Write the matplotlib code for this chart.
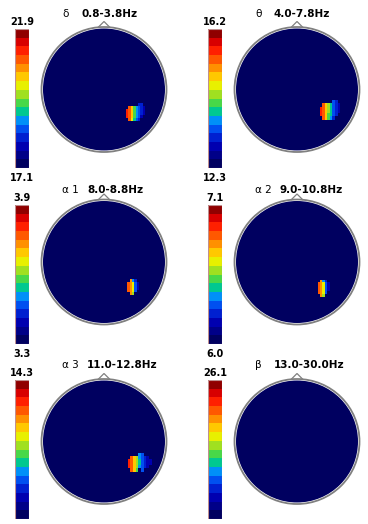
import numpy as np
import matplotlib
matplotlib.use("Agg")
import matplotlib.pyplot as plt
from matplotlib.colors import ListedColormap, BoundaryNorm
from matplotlib.patches import Circle, Polygon, Rectangle

W, H = 368, 524
nan = np.nan

# ---- data ----
band_symbols = ["δ", "θ", "α1", "α2", "α3", "β"]
band_ranges = ["0.8-3.8Hz", "4.0-7.8Hz", "8.0-8.8Hz", "9.0-10.8Hz", "11.0-12.8Hz", "13.0-30.0Hz"]
scale_max = [21.9, 16.2, 3.9, 7.1, 14.3, 26.1]
scale_min = [17.1, 12.3, 3.3, 6.0, None, None]

# blob level grids (0..15 colour level), top row first; nan = background
delta_blob = [
    [nan, nan, nan, nan, nan, 3, 3, nan],
    [nan, 12, 10, 7, 5, 4, 3, 2],
    [13, 12, 10, 7, 5, 4, 3, 2],
    [13, 12, 10, 7, 5, 4, 3, 2],
    [13, 12, 10, 7, 5, 4, 2, nan],
    [nan, 12, 9, 6, 4, 3, nan, nan],
]
theta_blob = [
    [nan, nan, nan, nan, nan, 4, 3, nan],
    [nan, 12, 10, 8, 6, 4, 3, 2],
    [13, 12, 10, 8, 6, 4, 3, 2],
    [13, 12, 10, 8, 6, 4, 3, 2],
    [13, 12, 10, 7, 6, 4, 3, nan],
    [nan, 12, 10, 7, 5, 3, nan, nan],
]
alpha1_blob = [
    [nan, 11, 5, 3, nan],
    [12, 11, 9, 4, 2],
    [12, 11, 9, 4, 2],
    [12, 11, 9, 4, 2],
    [12, 11, 9, 4, nan],
    [nan, 11, 8, nan, nan],
]
alpha2_blob = [
    [nan, 11, 5, 3, nan],
    [12, 11, 9, 4, 2],
    [12, 11, 9, 4, 2],
    [12, 11, 9, 4, 2],
    [12, 11, 9, 4, nan],
    [nan, 11, 8, nan, nan],
]
alpha3_blob = [
    [nan, nan, nan, nan, 5, 4, nan, nan, nan],
    [nan, 12, 10, 8, 5, 4, 3, 2, nan],
    [13, 12, 10, 8, 6, 4, 3, 2, 2],
    [13, 12, 10, 8, 6, 4, 3, 2, 2],
    [13, 12, 10, 8, 5, 4, 3, 2, nan],
    [nan, 12, 10, 7, nan, 4, nan, nan, nan],
]
beta_blob = None
blobs = [delta_blob, theta_blob, alpha1_blob, alpha2_blob, alpha3_blob, beta_blob]
# blob extent in head units (radius = 1): x0, x1, y0 (bottom), y1 (top)
blob_extent = [
    (0.35, 0.66, -0.50, -0.21),
    (0.36, 0.69, -0.48, -0.17),
    (0.37, 0.56, -0.53, -0.27),
    (0.33, 0.52, -0.56, -0.28),
    (0.38, 0.76, -0.48, -0.18),
    None,
]

colors16 = ["#000060", "#000088", "#0000b0", "#0020d0", "#0050f0", "#0090f8",
            "#00c890", "#48d848", "#a0e020", "#e8f000", "#ffc800", "#ff9000",
            "#ff5800", "#ff2000", "#d80000", "#900000"]
cmap = ListedColormap(colors16)
norm = BoundaryNorm(np.arange(-0.5, 16.5, 1), 16)

fig = plt.figure(figsize=(W / 100, H / 100), dpi=100)
fig.patch.set_facecolor("white")


def px_axes(x0, y0, w, h):
    return fig.add_axes([x0 / W, 1 - (y0 + h) / H, w / W, h / H])


col_off = [0, 193]
head_cy = [89.5, 262, 441.5]
cbar_top = [29, 205, 380]
title_y = [14, 190, 365]
R = 62.5

for i in range(6):
    r, c = divmod(i, 2)
    dx = col_off[c]
    cx = 104 + dx
    cy = head_cy[r]

    # colorbar
    cax = px_axes(15 + dx, cbar_top[r], 14, 139)
    cax.set_xlim(0, 1)
    cax.set_ylim(0, 16)
    for k in range(16):
        cax.add_patch(Rectangle((0, k), 1, 1, facecolor=colors16[k], edgecolor="none"))
    cax.add_patch(Rectangle((0, 0), 1, 16, facecolor="none", edgecolor="#c09090", lw=0.8))
    cax.axis("off")
    fig.text((22 + dx) / W, 1 - (cbar_top[r] - 7) / H, f"{scale_max[i]:.1f}",
             ha="center", va="center", fontsize=7, fontweight="bold", family="DejaVu Sans")
    if scale_min[i] is not None:
        fig.text((22 + dx) / W, 1 - (cbar_top[r] + 149) / H, f"{scale_min[i]:.1f}",
                 ha="center", va="center", fontsize=7, fontweight="bold", family="DejaVu Sans")

    # title
    sym = band_symbols[i]
    fig.text((62 + dx) / W, 1 - title_y[r] / H, sym[0] + (" " + sym[1:] if len(sym) > 1 else ""),
             ha="left", va="center", fontsize=7.5, family="DejaVu Sans")
    fig.text((81 + dx + (6 if len(sym) > 1 else 0)) / W, 1 - title_y[r] / H, band_ranges[i],
             ha="left", va="center", fontsize=7.5, fontweight="bold", family="DejaVu Sans")

    # head
    ax = px_axes(cx - 72, cy - 72, 144, 144)
    ax.set_xlim(-72, 72)
    ax.set_ylim(-72, 72)
    ax.set_aspect("equal")
    ax.axis("off")
    head = Circle((0, 0), R - 1.5, facecolor=colors16[0], edgecolor="none", zorder=1)
    ax.add_patch(head)
    ax.add_patch(Circle((0, 0), R, facecolor="none", edgecolor="#808080", lw=1.3, zorder=3))
    ax.add_patch(Polygon([(-6, R - 0.5), (0, R + 5.5), (6, R - 0.5)], closed=False,
                         facecolor="none", edgecolor="#808080", lw=0.9, zorder=3))

    blob = blobs[i]
    if blob is not None:
        g = np.array(blob, dtype=float)[::-1]
        x0, x1, y0, y1 = blob_extent[i]
        xs = np.linspace(x0 * R, x1 * R, g.shape[1] + 1)
        ys = np.linspace(y0 * R, y1 * R, g.shape[0] + 1)
        m = ax.pcolormesh(xs, ys, np.ma.masked_invalid(g), cmap=cmap, norm=norm, zorder=2)
        m.set_clip_path(head)

fig.savefig("out.png", dpi=100)
